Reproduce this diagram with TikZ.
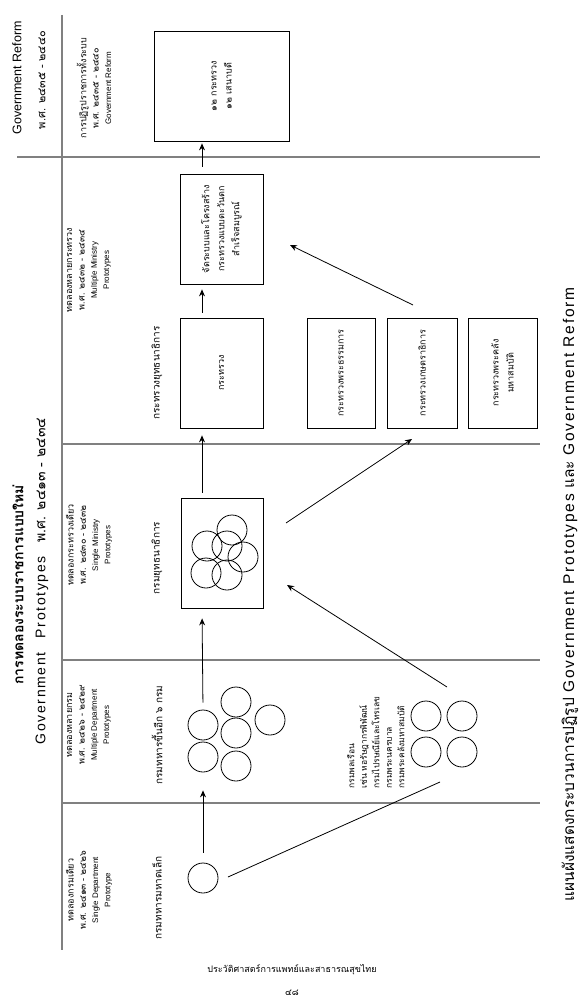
\documentclass[tikz,border=0pt]{standalone}
\usepackage{fontspec}
\setmainfont{Liberation Sans}
\newfontfamily\thaifont[Script=Thai]{Loma}
\newfontfamily\widefont[LetterSpace=12]{Liberation Sans}
\usetikzlibrary{arrows.meta}
\definecolor{gvRule}{HTML}{808080}
\tikzset{
  stage box/.style={draw,thick,rotate=90,align=center,inner sep=2pt,
    font=\thaifont\fontsize{9}{15}\selectfont},
  unit/.style={draw,circle,thick,minimum size=30pt,inner sep=0pt},
  stage arrow/.style={-{Stealth[length=7pt,width=6pt]},thick},
  stage rule/.style={draw=gvRule,line width=1.1pt},
  col label/.style={rotate=90,align=center,font=\fontsize{8}{12.3}\selectfont},
  sub label/.style={rotate=90,font=\thaifont\fontsize{10}{12}\selectfont},
}
\newcommand{\thline}[1]{{\thaifont\fontsize{9}{12.3}\selectfont #1}}
\begin{document}
\begin{tikzpicture}[x=1pt,y=-1pt]
\useasboundingbox (0,0) rectangle (586,1008);
\coordinate (spine) at (202,0);
% frame of the table
\draw[stage rule] (62,15) -- (62,950);
\draw[stage rule] (17,157) -- (540,157);
\foreach \yy in {444,660,803}
  \draw[stage rule] (62,\yy) -- (540,\yy);
% headings
\node[rotate=90,font=\fontsize{12.5}{14}\selectfont] (hdreform) at (17,78) {Government Reform};
\node[rotate=90,font=\thaifont\fontsize{11}{13}\selectfont] (hdreformyr) at (42,80) {พ.ศ. ๒๔๓๕ - ๒๔๔๐};
\node[rotate=90,anchor=west,font=\thaifont\bfseries\fontsize{14}{16}\selectfont] (hdtitle) at (18,688) {การทดลองระบบราชการแบบใหม่};
\node[rotate=90,anchor=west,font=\widefont\fontsize{14}{16}\selectfont] (hdproto) at (42,748)
  {Government\quad Prototypes\quad {\thaifont พ.ศ. ๒๔๑๓ - ๒๔๓๔}};
% column labels
\node[col label] (lbreform) at (94,88) {\thline{การปฏิรูปราชการทั้งระบบ}\\\thline{พ.ศ. ๒๔๓๕ - ๒๔๔๐}\\Government Reform};
\node[col label] (lbmm) at (89,270) {\thline{ทดลองหลายกระทรวง}\\\thline{พ.ศ. ๒๔๓๒ - ๒๔๓๔}\\Multiple Ministry\\Prototypes};
\node[col label] (lbsm) at (89,545) {\thline{ทดลองกระทรวงเดียว}\\\thline{พ.ศ. ๒๔๓๐ - ๒๔๓๒}\\Single Ministry\\Prototypes};
\node[col label] (lbmd) at (89,725) {\thline{ทดลองหลายกรม}\\\thline{พ.ศ. ๒๔๒๖ - ๒๔๒๙}\\Multiple Department\\Prototypes};
\node[col label] (lbsd) at (89,890) {\thline{ทดลองกรมเดียว}\\\thline{พ.ศ. ๒๔๑๓ - ๒๔๒๖}\\Single Department\\Prototype};
\node[sub label] (submm) at (157,373) {กระทรวงยุทธนาธิการ};
\node[sub label] (subsm) at (157,558) {กรมยุทธนาธิการ};
\node[sub label] (submd) at (157,735) {กรมทหารขึ้นอีก ๖ กรม};
\node[sub label] (subsd) at (157,898) {กรมทหารมหาดเล็ก};
% boxes
\node[stage box,minimum width=110pt,minimum height=135pt] (reformbox) at (221.5,86) {๑๒ กระทรวง\\๑๒ เสนาบดี};
\node[stage box,minimum width=110pt,minimum height=83pt] (fullbox) at (221.5,229) {จัดระบบและโครงสร้าง\\กระทรวงแบบตะวันตก\\สำเร็จสมบูรณ์};
\node[stage box,minimum width=110pt,minimum height=83pt] (minbox) at (221.5,373) {กระทรวง};
\node[stage box,minimum width=110pt,minimum height=82pt] (smbox) at (222,553) {};
\node[stage box,minimum width=110pt,minimum height=68pt] (dharmabox) at (341,373) {กระทรวงพระธรรมการ};
\node[stage box,minimum width=110pt,minimum height=70pt] (agribox) at (422,373) {กระทรวงเกษตราธิการ};
\node[stage box,minimum width=110pt,minimum height=69pt] (treasbox) at (502.5,373) {กระทรวงพระคลัง\\มหาสมบัติ};
% circles of the single ministry
\foreach \cx/\cy [count=\i] in {232/530,207/546,227/546,243/557,206/573,227/575}
  \node[unit] (smc\i) at (\cx,\cy) {};
% circles of the multiple departments
\foreach \cx/\cy [count=\i] in {203/757,203/725,236/702,236/733,236/766,270/720}
  \node[unit] (mdc\i) at (\cx,\cy) {};
\foreach \cx/\cy [count=\i] in {426/716,462/716,426/752,462/752}
  \node[unit] (cvc\i) at (\cx,\cy) {};
\node[rotate=90,anchor=south west,align=left,font=\thaifont\fontsize{8.5}{12.5}\selectfont] (cvtext) at (408,792)
  {กรมพลเรือน\\เช่น หอรัษฎากรพิพัฒน์\\กรมไปรษณีย์และโทรเลข\\กรมพระนครบาล\\กรมพระคลังมหาสมบัติ};
\node[unit] (sdc) at (203,878) {};
% arrows along the spine
\draw[stage arrow,shorten <=10pt,shorten >=18pt] (sdc.north) -- (mdc1.south);
\draw[stage arrow,shorten <=7pt,shorten >=10pt] (mdc2.north) -- (smbox.west -| spine);
\draw[stage arrow,shorten <=5pt,shorten >=7pt] (smbox.east -| spine) -- (minbox.west -| spine);
\draw[stage arrow,shorten <=5pt,shorten >=5pt] (minbox.east -| spine) -- (fullbox.west -| spine);
\draw[stage arrow,shorten <=7pt,shorten >=2pt] (fullbox.east -| spine) -- (reformbox.west -| spine);
% side branches
\coordinate (sdOut) at (228,877);
\coordinate (cvIn) at (440,782);
\coordinate (cvOut) at (447,687);
\coordinate (smIn) at (287,585);
\coordinate (smOut) at (286,523);
\coordinate (agriIn) at (412,439);
\coordinate (agriOut) at (413,305);
\coordinate (fullIn) at (290,245);
\draw[thick] (sdOut) -- (cvIn);
\draw[stage arrow] (cvOut) -- (smIn);
\draw[stage arrow] (smOut) -- (agriIn);
\draw[stage arrow] (agriOut) -- (fullIn);
% caption and footer
\node[rotate=90,anchor=west,font=\thaifont\fontsize{15.5}{17}\selectfont] (caption) at (570,905)
  {แผนผังแสดงกระบวนการปฏิรูป {\widefont Government Prototypes} และ {\widefont Government Reform}};
\node[font=\thaifont\fontsize{9}{11}\selectfont] (footer) at (292,970) {ประวัติศาสตร์การแพทย์และสาธารณสุขไทย};
\node[font=\thaifont\fontsize{9}{11}\selectfont] (pageno) at (292,993) {๔๘};
\end{tikzpicture}
\end{document}
